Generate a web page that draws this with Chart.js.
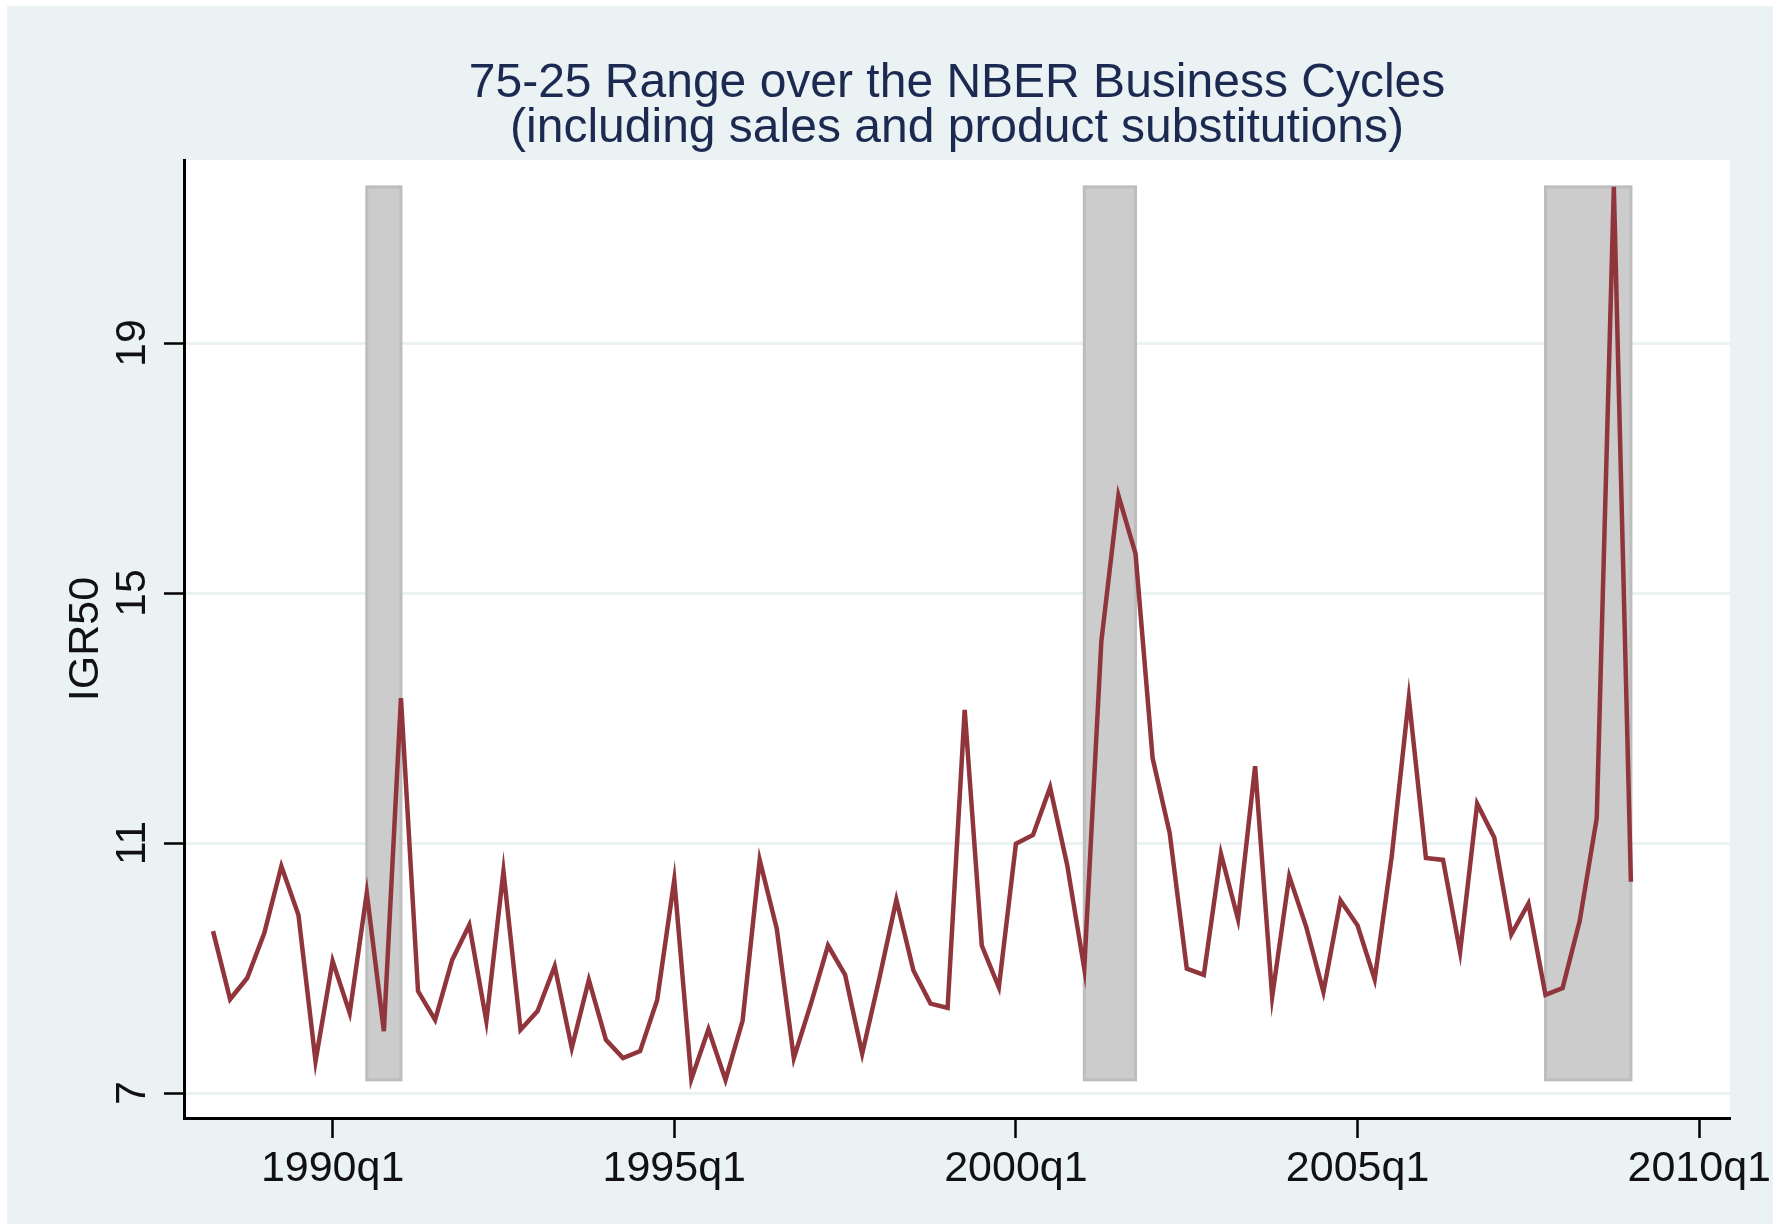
<!DOCTYPE html>
<html>
<head>
<meta charset="utf-8">
<script src="https://cdn.jsdelivr.net/npm/chart.js@4.4.0/dist/chart.umd.min.js"></script>
<style>
  html, body { margin: 0; padding: 0; background: #ffffff; }
  canvas { display: block; }
</style>
</head>
<body>
<canvas id="chart" width="1779" height="1225"></canvas>
<script>
// quarters 1988q2 .. 2009q1
var quarters = [
	'1988q2','1988q3','1988q4',
	'1989q1','1989q2','1989q3','1989q4',
	'1990q1','1990q2','1990q3','1990q4',
	'1991q1','1991q2','1991q3','1991q4',
	'1992q1','1992q2','1992q3','1992q4',
	'1993q1','1993q2','1993q3','1993q4',
	'1994q1','1994q2','1994q3','1994q4',
	'1995q1','1995q2','1995q3','1995q4',
	'1996q1','1996q2','1996q3','1996q4',
	'1997q1','1997q2','1997q3','1997q4',
	'1998q1','1998q2','1998q3','1998q4',
	'1999q1','1999q2','1999q3','1999q4',
	'2000q1','2000q2','2000q3','2000q4',
	'2001q1','2001q2','2001q3','2001q4',
	'2002q1','2002q2','2002q3','2002q4',
	'2003q1','2003q2','2003q3','2003q4',
	'2004q1','2004q2','2004q3','2004q4',
	'2005q1','2005q2','2005q3','2005q4',
	'2006q1','2006q2','2006q3','2006q4',
	'2007q1','2007q2','2007q3','2007q4',
	'2008q1','2008q2','2008q3','2008q4',
	'2009q1'
];

var igr50 = [
	9.59, 8.50, 8.84,
	9.56, 10.63, 9.85, 7.51,
	9.11, 8.28, 10.20, 7.99,
	13.32, 8.63, 8.17, 9.13,
	9.69, 8.15, 10.55, 8.01,
	8.31, 9.03, 7.72, 8.81,
	7.85, 7.56, 7.67, 8.49,
	10.41, 7.22, 8.02, 7.21,
	8.16, 10.73, 9.63, 7.56,
	8.43, 9.36, 8.89, 7.63,
	8.83, 10.09, 8.96, 8.43,
	8.36, 13.13, 9.36, 8.69,
	10.99, 11.13, 11.89, 10.65,
	8.99, 14.23, 16.56, 15.63,
	12.36, 11.16, 8.99, 8.89,
	10.83, 9.78, 12.23, 8.54,
	10.47, 9.65, 8.62, 10.08,
	9.68, 8.82, 10.79, 13.32,
	10.76, 10.73, 9.26, 11.63,
	11.09, 9.54, 10.03, 8.57,
	8.68, 9.75, 11.40, 21.50,
	10.38
];

// NBER recessions (start, end quarter)
var recStart = ['1990q3', '2001q1', '2007q4'];
var recEnd   = ['1991q1', '2001q4', '2009q1'];

var xTickLabels = ['1990q1', '1995q1', '2000q1', '2005q1', '2010q1'];
var yTicks = [7, 11, 15, 19];

var titleLines = ['75-25 Range over the NBER Business Cycles', '(including sales and product substitutions)'];

// quarter string -> quarters since 1990q1
function qNum(s) {
	return (parseInt(s.substr(0, 4)) - 1990) * 4 + parseInt(s.substr(5)) - 1;
}

var points = [];
quarters.forEach(function(q, i) {
	points.push({x: qNum(q), y: igr50[i]});
});

var bandLow = Math.min.apply(null, igr50);
var bandHigh = Math.max.apply(null, igr50);

var FONT = '"Liberation Sans", Arial, sans-serif';
Chart.defaults.font.family = FONT;

var bgPlugin = {
	id: 'bg',
	beforeDraw: function(chart) {
		var ctx = chart.ctx, a = chart.chartArea;
		ctx.save();
		ctx.fillStyle = '#ffffff';
		ctx.fillRect(0, 0, chart.width, chart.height);
		ctx.fillStyle = '#eaf2f3';
		ctx.fillRect(7, 6, chart.width - 13, chart.height - 7);
		ctx.fillStyle = '#ffffff';
		ctx.fillRect(a.left, a.top, a.right - a.left, a.bottom - a.top);
		ctx.restore();
	}
};

var bandPlugin = {
	id: 'bands',
	beforeDatasetsDraw: function(chart) {
		var ctx = chart.ctx, xs = chart.scales.x, ys = chart.scales.y;
		ctx.save();
		recStart.forEach(function(s, i) {
			var x1 = xs.getPixelForValue(qNum(s));
			var x2 = xs.getPixelForValue(qNum(recEnd[i]));
			var y1 = ys.getPixelForValue(bandHigh);
			var y2 = ys.getPixelForValue(bandLow);
			ctx.fillStyle = '#cccccc';
			ctx.fillRect(x1, y1, x2 - x1, y2 - y1);
			ctx.strokeStyle = '#bdbdbd';
			ctx.lineWidth = 3;
			ctx.strokeRect(x1, y1, x2 - x1, y2 - y1);
		});
		ctx.restore();
	}
};

// stata style vertical y tick labels
var yLabelPlugin = {
	id: 'ylabels',
	afterDraw: function(chart) {
		var ctx = chart.ctx, ys = chart.scales.y;
		ctx.save();
		ctx.fillStyle = '#111111';
		ctx.font = '43px ' + FONT;
		ctx.textAlign = 'center';
		ctx.textBaseline = 'middle';
		yTicks.forEach(function(v) {
			ctx.save();
			ctx.translate(133, ys.getPixelForValue(v));
			ctx.rotate(-Math.PI / 2);
			ctx.fillText(String(v), 0, 0);
			ctx.restore();
		});
		ctx.restore();
	}
};

var ctx = document.getElementById('chart');

new Chart(ctx, {
	type: 'line',
	data: {
		datasets: [{
			label: 'IGR50',
			data: points,
			borderColor: '#90353b',
			borderWidth: 4.5,
			pointRadius: 0,
			tension: 0,
			fill: false
		}]
	},
	options: {
		responsive: false,
		animation: false,
		devicePixelRatio: 1,
		layout: {
			padding: {left: 0, right: 49, top: 0, bottom: 0}
		},
		plugins: {
			legend: {display: false},
			tooltip: {enabled: false},
			title: {
				display: true,
				text: titleLines,
				color: '#1c2a52',
				fullSize: false,
				font: {size: 48, weight: 'normal', lineHeight: 0.9375},
				padding: {top: 61, bottom: 9}
			}
		},
		scales: {
			x: {
				type: 'linear',
				min: -8.7,
				max: 81.8,
				afterBuildTicks: function(scale) {
					scale.ticks = xTickLabels.map(function(l) { return {value: qNum(l)}; });
				},
				afterFit: function(scale) {
					scale.height = 107;
					scale.paddingLeft = 0;
					scale.paddingRight = 0;
				},
				ticks: {
					autoSkip: false,
					maxRotation: 0,
					minRotation: 0,
					padding: 5,
					color: '#111111',
					font: {size: 43},
					callback: function(v) {
						var i = xTickLabels.map(qNum).indexOf(v);
						return i >= 0 ? xTickLabels[i] : '';
					}
				},
				grid: {
					drawOnChartArea: false,
					drawTicks: true,
					tickLength: 20,
					tickColor: '#000000',
					tickWidth: 2.5
				},
				border: {display: true, color: '#000000', width: 3}
			},
			y: {
				type: 'linear',
				min: 6.6,
				max: 21.93,
				afterBuildTicks: function(scale) {
					scale.ticks = yTicks.map(function(v) { return {value: v}; });
				},
				afterFit: function(scale) {
					scale.width = 184;
					scale.paddingTop = 0;
					scale.paddingBottom = 0;
				},
				ticks: {display: false},
				title: {
					display: true,
					text: 'IGR50',
					color: '#111111',
					font: {size: 43},
					padding: {top: 60, bottom: 0}
				},
				grid: {
					color: '#eaf2f3',
					lineWidth: 3,
					drawTicks: true,
					tickLength: 20,
					tickColor: '#000000',
					tickWidth: 2.5
				},
				border: {display: true, color: '#000000', width: 3}
			}
		}
	},
	plugins: [bgPlugin, bandPlugin, yLabelPlugin]
});
</script>
</body>
</html>
